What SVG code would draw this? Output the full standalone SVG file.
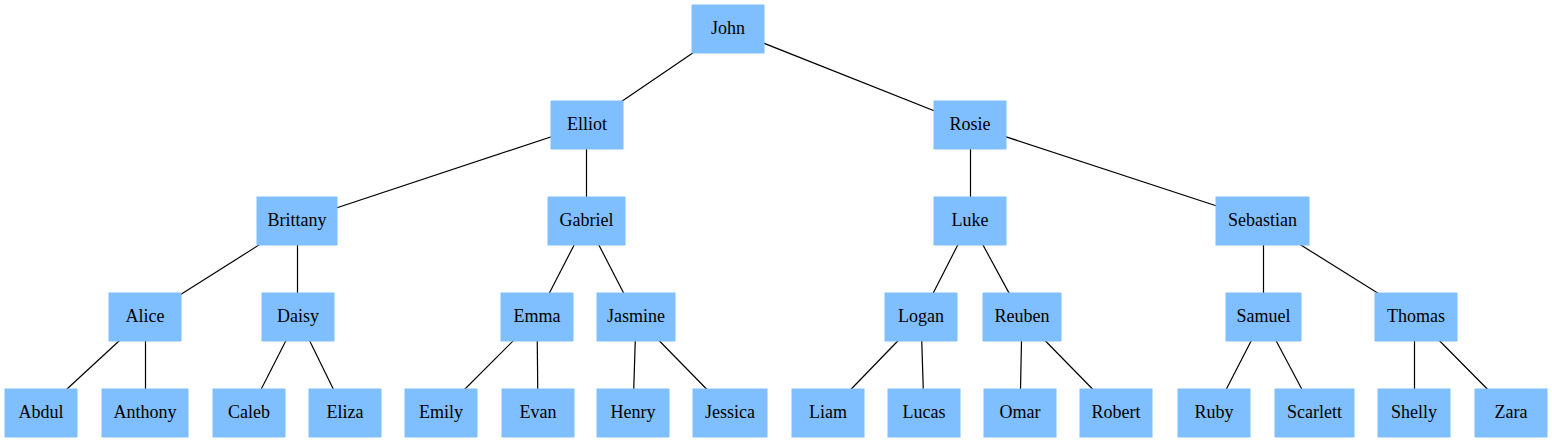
<svg xmlns="http://www.w3.org/2000/svg" width="1552" height="443" viewBox="0 0 1552 443">
<style>
.n rect{fill:#80bfff;stroke:#80bfff;stroke-width:1}
.e line{stroke:#000;stroke-width:1.2}
</style>
<rect width="1552" height="443" fill="#fff"/>
<g id="edges" class="e">
<line x1="728" y1="29" x2="587" y2="125"/>
<line x1="728" y1="29" x2="970" y2="125"/>
<line x1="587" y1="125" x2="297" y2="221"/>
<line x1="586.5" y1="125" x2="586.5" y2="221"/>
<line x1="970.5" y1="125" x2="970.5" y2="221"/>
<line x1="970" y1="125" x2="1262.5" y2="221"/>
<line x1="297" y1="221" x2="145" y2="317"/>
<line x1="297.5" y1="221" x2="297.5" y2="317"/>
<line x1="586.5" y1="221" x2="537" y2="317"/>
<line x1="586.5" y1="221" x2="636" y2="317"/>
<line x1="970" y1="221" x2="921" y2="317"/>
<line x1="970" y1="221" x2="1022" y2="317"/>
<line x1="1263.5" y1="221" x2="1263.5" y2="317"/>
<line x1="1262.5" y1="221" x2="1416" y2="317"/>
<line x1="145" y1="317" x2="41" y2="413"/>
<line x1="145.5" y1="317" x2="145.5" y2="413"/>
<line x1="298" y1="317" x2="249" y2="413"/>
<line x1="298" y1="317" x2="345" y2="413"/>
<line x1="537" y1="317" x2="441" y2="413"/>
<line x1="537" y1="317" x2="538" y2="413"/>
<line x1="636" y1="317" x2="633" y2="413"/>
<line x1="636" y1="317" x2="730" y2="413"/>
<line x1="921" y1="317" x2="828" y2="413"/>
<line x1="921" y1="317" x2="924" y2="413"/>
<line x1="1022" y1="317" x2="1020" y2="413"/>
<line x1="1022" y1="317" x2="1116" y2="413"/>
<line x1="1263.5" y1="317" x2="1214" y2="413"/>
<line x1="1263.5" y1="317" x2="1314.5" y2="413"/>
<line x1="1414.5" y1="317" x2="1414.5" y2="413"/>
<line x1="1416" y1="317" x2="1511" y2="413"/>
</g>
<g font-family="Liberation Serif, DejaVu Serif, serif" font-size="18" fill="#000" text-anchor="middle">
<g id="John" class="n"><rect x="692" y="5" width="72" height="48"/><text x="728" y="34">John</text></g>
<g id="Elliot" class="n"><rect x="551" y="101" width="72" height="48"/><text x="587" y="130">Elliot</text></g>
<g id="Rosie" class="n"><rect x="934" y="101" width="72" height="48"/><text x="970" y="130">Rosie</text></g>
<g id="Brittany" class="n"><rect x="257" y="197" width="80" height="48"/><text x="297" y="226">Brittany</text></g>
<g id="Gabriel" class="n"><rect x="548" y="197" width="77" height="48"/><text x="586.5" y="226">Gabriel</text></g>
<g id="Luke" class="n"><rect x="934" y="197" width="72" height="48"/><text x="970" y="226">Luke</text></g>
<g id="Sebastian" class="n"><rect x="1216" y="197" width="93" height="48"/><text x="1262.5" y="226">Sebastian</text></g>
<g id="Alice" class="n"><rect x="109" y="293" width="72" height="48"/><text x="145" y="322">Alice</text></g>
<g id="Daisy" class="n"><rect x="262" y="293" width="72" height="48"/><text x="298" y="322">Daisy</text></g>
<g id="Emma" class="n"><rect x="501" y="293" width="72" height="48"/><text x="537" y="322">Emma</text></g>
<g id="Jasmine" class="n"><rect x="597" y="293" width="78" height="48"/><text x="636" y="322">Jasmine</text></g>
<g id="Logan" class="n"><rect x="885" y="293" width="72" height="48"/><text x="921" y="322">Logan</text></g>
<g id="Reuben" class="n"><rect x="983" y="293" width="78" height="48"/><text x="1022" y="322">Reuben</text></g>
<g id="Samuel" class="n"><rect x="1226" y="293" width="75" height="48"/><text x="1263.5" y="322">Samuel</text></g>
<g id="Thomas" class="n"><rect x="1375" y="293" width="82" height="48"/><text x="1416" y="322">Thomas</text></g>
<g id="Abdul" class="n"><rect x="5" y="389" width="72" height="48"/><text x="41" y="418">Abdul</text></g>
<g id="Anthony" class="n"><rect x="102" y="389" width="86" height="48"/><text x="145" y="418">Anthony</text></g>
<g id="Caleb" class="n"><rect x="213" y="389" width="72" height="48"/><text x="249" y="418">Caleb</text></g>
<g id="Eliza" class="n"><rect x="309" y="389" width="72" height="48"/><text x="345" y="418">Eliza</text></g>
<g id="Emily" class="n"><rect x="405" y="389" width="72" height="48"/><text x="441" y="418">Emily</text></g>
<g id="Evan" class="n"><rect x="502" y="389" width="72" height="48"/><text x="538" y="418">Evan</text></g>
<g id="Henry" class="n"><rect x="597" y="389" width="72" height="48"/><text x="633" y="418">Henry</text></g>
<g id="Jessica" class="n"><rect x="693" y="389" width="74" height="48"/><text x="730" y="418">Jessica</text></g>
<g id="Liam" class="n"><rect x="792" y="389" width="72" height="48"/><text x="828" y="418">Liam</text></g>
<g id="Lucas" class="n"><rect x="888" y="389" width="72" height="48"/><text x="924" y="418">Lucas</text></g>
<g id="Omar" class="n"><rect x="984" y="389" width="72" height="48"/><text x="1020" y="418">Omar</text></g>
<g id="Robert" class="n"><rect x="1080" y="389" width="72" height="48"/><text x="1116" y="418">Robert</text></g>
<g id="Ruby" class="n"><rect x="1178" y="389" width="72" height="48"/><text x="1214" y="418">Ruby</text></g>
<g id="Scarlett" class="n"><rect x="1275" y="389" width="79" height="48"/><text x="1314.5" y="418">Scarlett</text></g>
<g id="Shelly" class="n"><rect x="1378" y="389" width="72" height="48"/><text x="1414" y="418">Shelly</text></g>
<g id="Zara" class="n"><rect x="1475" y="389" width="72" height="48"/><text x="1511" y="418">Zara</text></g>
</g>
</svg>
